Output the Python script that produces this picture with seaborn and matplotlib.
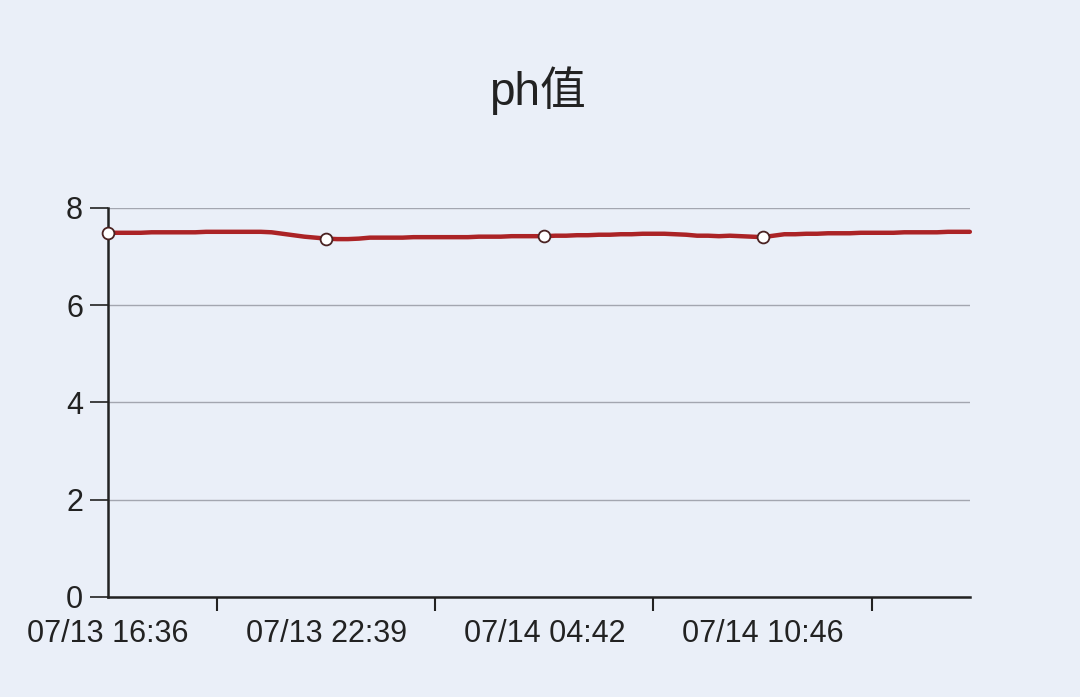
import matplotlib
matplotlib.use("Agg")
import matplotlib.pyplot as plt
import seaborn as sns
import pandas as pd

# ---- data ----
ph_values = [
    7.49, 7.49, 7.49, 7.49, 7.50, 7.50, 7.50, 7.50, 7.50, 7.51,
    7.51, 7.51, 7.51, 7.51, 7.51, 7.50, 7.47, 7.44, 7.41, 7.39,
    7.37, 7.36, 7.36, 7.37, 7.39, 7.39, 7.39, 7.39, 7.40, 7.40,
    7.40, 7.40, 7.40, 7.40, 7.41, 7.41, 7.41, 7.42, 7.42, 7.42,
    7.42, 7.43, 7.43, 7.44, 7.44, 7.45, 7.45, 7.46, 7.46, 7.47,
    7.47, 7.47, 7.46, 7.45, 7.43, 7.43, 7.42, 7.43, 7.42, 7.41,
    7.40, 7.43, 7.46, 7.46, 7.47, 7.47, 7.48, 7.48, 7.48, 7.49,
    7.49, 7.49, 7.49, 7.50, 7.50, 7.50, 7.50, 7.51, 7.51, 7.51,
]
label_index = [0, 20, 40, 60]
tick_labels = ["07/13 16:36", "07/13 22:39", "07/14 04:42", "07/14 10:46"]
tick_mark_index = [10, 30, 50, 70]
y_ticks = [0, 2, 4, 6, 8]
title = "ph值"

df = pd.DataFrame({"idx": list(range(len(ph_values))), "ph": ph_values})

bg = "#eaeff8"
sns.set_style("white")
plt.rcParams["font.family"] = ["Liberation Sans", "Noto Sans CJK SC", "DejaVu Sans"]

fig = plt.figure(figsize=(10.8, 6.97), dpi=100, facecolor=bg)
ax = fig.add_axes([0.1, 0.1435, 0.798, 0.5581])
ax.set_facecolor(bg)

sns.lineplot(data=df, x="idx", y="ph", ax=ax, color="#ab2326", linewidth=3.2,
             marker="o", markevery=label_index, markersize=8.5,
             markerfacecolor="white", markeredgecolor="#4a2222",
             markeredgewidth=1.3, zorder=5, clip_on=False)

ax.set_xlim(0, len(ph_values) - 1)
ax.set_ylim(0, 8)
ax.set_yticks(y_ticks)
ax.set_yticklabels([str(v) for v in y_ticks], fontsize=22, color="#222222")
ax.yaxis.grid(True, color="#a3a6b0", linewidth=1.0)
ax.set_axisbelow(True)

ax.set_xticks(label_index)
ax.set_xticklabels(tick_labels, fontsize=22, color="#222222")
ax.set_xticks(tick_mark_index, minor=True)
ax.tick_params(axis="x", which="both", bottom=True)
ax.tick_params(axis="y", which="major", left=True)
ax.tick_params(axis="x", which="major", length=0, pad=16)
ax.tick_params(axis="x", which="minor", length=10, width=1.5, color="#222222", direction="out")
ax.tick_params(axis="y", which="major", length=13, width=1.2, color="#222222", pad=5, direction="out")

for s in ["top", "right"]:
    ax.spines[s].set_visible(False)
for s in ["left", "bottom"]:
    ax.spines[s].set_color("#222222")
    ax.spines[s].set_linewidth(1.8)

ax.set_xlabel("")
ax.set_ylabel("")
fig.text(0.498, 0.87, title, ha="center", va="center", fontsize=33, color="#222222")

fig.savefig("out.png", dpi=100, facecolor=bg)
